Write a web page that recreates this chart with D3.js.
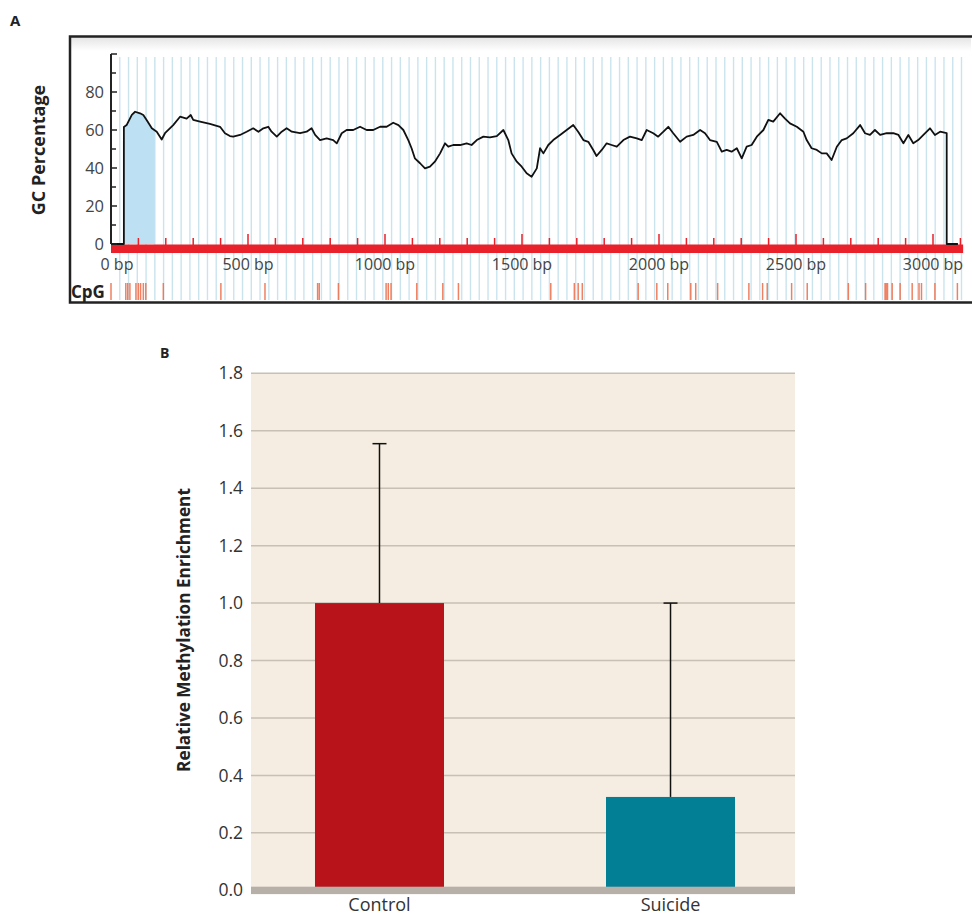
<!DOCTYPE html>
<html><head><meta charset="utf-8">
<script src="https://cdn.jsdelivr.net/npm/d3@7"></script>
<style>
html,body{margin:0;padding:0;background:#fff;}
text{font-family:"Open Sans",Lato,sans-serif;}
</style></head>
<body>
<svg id="chart" width="972" height="918"></svg>
<script>
// ---------- Panel A data ----------
const seqLength = 3110;
const gcPos = [0,47,47,57,76,88,106,118,130,149,167,185,197,227,252,276,291,300,325,361,398,416,434,446,471,495,519,538,556,574,586,605,623,641,660,690,714,732,745,763,787,811,824,842,860,884,909,933,957,982,1006,1030,1049,1067,1085,1097,1109,1128,1146,1164,1182,1201,1219,1231,1249,1274,1298,1316,1335,1359,1383,1408,1432,1450,1462,1481,1499,1517,1535,1554,1566,1578,1596,1614,1639,1663,1687,1705,1724,1742,1760,1772,1791,1809,1827,1846,1870,1894,1919,1937,1955,1979,1997,2016,2034,2052,2077,2101,2125,2150,2168,2186,2211,2229,2247,2265,2284,2302,2320,2338,2357,2381,2399,2417,2442,2460,2478,2503,2527,2539,2557,2576,2594,2612,2630,2649,2667,2685,2709,2734,2752,2770,2788,2807,2831,2855,2874,2892,2910,2928,2946,2965,2989,3007,3026,3050,3050,3091];
const gcVal = [0,0,61.6,62.6,68,69.6,68.8,67.9,65.3,60.9,59.1,55,58.3,62.6,67,66,67.9,65.3,64.4,63.2,61.7,58.3,56.8,56.5,57.4,59.1,60.9,59.1,60.9,61.7,59.1,56.5,59.1,60.9,59.1,58.3,59.1,60.9,57.4,54.7,55.6,54.7,53,58.3,60,60,61.7,60,60,61.7,61.7,63.8,62.6,60,54.7,50.4,45.1,42.5,39.8,40.7,43.3,47.7,53,51.2,52.1,52.1,53,52.1,54.7,56.5,56.1,56.8,60,54.7,47.7,43.3,40.7,37.2,35.4,39.8,50.4,47.7,52.1,54.7,57.4,60,62.6,59.1,54.7,53.8,49.5,46.3,49.5,53,52.1,51.2,54.7,56.5,55.6,54.7,60,58.3,56.5,59.1,61.7,58.3,53.8,56.5,57.4,60,58.3,54.7,53.8,48.6,49.5,48.6,50.4,45.1,51.2,52.1,56.5,60,65.3,64.4,68.8,66,63.5,61.7,59.1,54.7,50.4,49.5,47.7,47.7,44.2,51.2,54.7,55.6,58.3,62.6,58.3,57.4,60,57.4,58.3,58.3,57.4,53,57.4,53,54.7,57.4,60.9,57.4,59.1,58.3,0,0];
const cpgIsland = [47,160];
const cpgPos = [0,54,61,69,91,100,108,118,127,191,401,562,754,760,830,1004,1012,1022,1116,1211,1268,1605,1691,1705,1720,1924,1992,2032,2116,2134,2214,2328,2378,2395,2484,2541,2691,2754,2825,2829,2834,2851,2880,2924,2949,2958,3007,3089];
const bpTicks = [0,500,1000,1500,2000,2500,3000];
const bpTickLabels = ["0 bp","500 bp","1000 bp","1500 bp","2000 bp","2500 bp","3000 bp"];
const gcTicks = [0,20,40,60,80];
const gcTickLabels = ["0","20","40","60","80"];

// ---------- Panel B data ----------
const categories = ["Control","Suicide"];
const enrichment = [1.0,0.325];
const errUpper = [0.555,0.675];
const enrichTicks = [0,0.2,0.4,0.6,0.8,1.0,1.2,1.4,1.6,1.8];
const enrichTickLabels = ["0.0","0.2","0.4","0.6","0.8","1.0","1.2","1.4","1.6","1.8"];
const barColors = ["#b8121b","#027e95"];

const svg = d3.select("#chart");
const defs = svg.append("defs");

// ================= Panel A =================
const xA = d3.scaleLinear().domain([0,3000]).range([111,933]);
const yA = d3.scaleLinear().domain([0,100]).range([244,54]);

svg.append("text").attr("x",10).attr("y",26).attr("font-size",15).attr("font-weight",700).attr("fill","#222").text("A");

// frame + top gradient
const grad = defs.append("linearGradient").attr("id","topgrad").attr("x1",0).attr("y1",0).attr("x2",0).attr("y2",1);
grad.append("stop").attr("offset","0%").attr("stop-color","#e4e4e4");
grad.append("stop").attr("offset","100%").attr("stop-color","#ffffff");
svg.append("rect").attr("x",70).attr("y",37).attr("width",902).attr("height",265).attr("fill","#fff");
svg.append("rect").attr("x",71).attr("y",37).attr("width",900).attr("height",14).attr("fill","url(#topgrad)");

// blue gridlines
const gridBp = d3.range(32, seqLength, 32);
svg.append("g").selectAll("line").data(gridBp).join("line")
  .attr("x1",d=>xA(d)).attr("x2",d=>xA(d)).attr("y1",57).attr("y2",300)
  .attr("stroke","#cae4ee").attr("stroke-width",1.4);

// CpG island shading
defs.append("clipPath").attr("id","islandclip").append("rect")
  .attr("x",xA(cpgIsland[0])).attr("y",0).attr("width",xA(cpgIsland[1])-xA(cpgIsland[0])).attr("height",400);
const gcData = gcPos.map((p,i)=>({p,v:gcVal[i]}));
svg.append("path").datum(gcData)
  .attr("clip-path","url(#islandclip)")
  .attr("d",d3.area().x(d=>xA(d.p)).y0(yA(0)).y1(d=>yA(d.v)))
  .attr("fill","#bde1f2");

// red sequence bar
svg.append("rect").attr("x",xA(0)).attr("y",244.5).attr("width",xA(seqLength)-xA(0)).attr("height",8.5).attr("fill","#e8212b");
const scaleTicks = d3.range(100, seqLength, 100);
svg.append("g").selectAll("line").data(scaleTicks).join("line")
  .attr("x1",d=>xA(d)).attr("x2",d=>xA(d))
  .attr("y1",d=>d%500===0?234:238).attr("y2",245)
  .attr("stroke","#e8212b").attr("stroke-width",1.5);

// GC line
svg.append("path").datum(gcData)
  .attr("d",d3.line().x(d=>xA(d.p)).y(d=>yA(d.v)))
  .attr("fill","none").attr("stroke","#111").attr("stroke-width",1.8).attr("stroke-linejoin","round");

// y axis A
const gA = svg.append("g");
gA.append("line").attr("x1",111).attr("x2",111).attr("y1",yA(100)).attr("y2",yA(0)).attr("stroke","#222").attr("stroke-width",2);
gA.selectAll("line.t").data(d3.range(0,101,10)).join("line").attr("class","t")
  .attr("x1",111).attr("x2",d=>d%20===0?117:116).attr("y1",d=>yA(d)).attr("y2",d=>yA(d))
  .attr("stroke","#222").attr("stroke-width",1.5);
gA.selectAll("text").data(gcTicks).join("text")
  .attr("x",104).attr("y",d=>yA(d)).attr("dy","0.35em").attr("text-anchor","end")
  .attr("font-size",16.5).attr("fill","#444").text((d,i)=>gcTickLabels[i]);

// x labels A
svg.append("g").selectAll("text").data(bpTicks).join("text")
  .attr("x",(d,i)=>i===0?xA(d)+6:xA(d)).attr("y",270).attr("text-anchor","middle")
  .attr("font-size",16).attr("fill","#444").text((d,i)=>bpTickLabels[i]);

// GC Percentage title
svg.append("text").attr("transform","translate(45,150) rotate(-90)").attr("text-anchor","middle")
  .attr("font-size",18).attr("font-weight",700).attr("fill","#222").text("GC Percentage");

// CpG row
svg.append("text").attr("x",71).attr("y",297.5).attr("font-size",17).attr("font-weight",700).attr("fill","#222").text("CpG");
svg.append("g").selectAll("line").data(cpgPos).join("line")
  .attr("x1",d=>xA(d)).attr("x2",d=>xA(d)).attr("y1",283).attr("y2",300)
  .attr("stroke","#ec6a45").attr("stroke-width",1.5).attr("stroke-opacity",0.85);

// frame
svg.append("rect").attr("x",70).attr("y",36.5).attr("width",905).attr("height",266).attr("fill","none").attr("stroke","#222").attr("stroke-width",2.5);

// ================= Panel B =================
const yB = d3.scaleLinear().domain([0,1.8]).range([890.3,373.3]);
const xB = d3.scaleBand().domain(categories).range([253,797]).paddingInner(0.5567).paddingOuter(0.213);
const left = 251, right = 795;

svg.append("text").attr("x",160).attr("y",358).attr("font-size",14).attr("font-weight",700).attr("fill","#222").text("B");

svg.append("rect").attr("x",left).attr("y",yB(1.8)).attr("width",right-left).attr("height",yB(0)-yB(1.8)).attr("fill","#f5ede1");
svg.append("g").selectAll("line").data(enrichTicks.filter(d=>d>0)).join("line")
  .attr("x1",left).attr("x2",right).attr("y1",d=>yB(d)).attr("y2",d=>yB(d))
  .attr("stroke","#c8bfb5").attr("stroke-width",1.5);

// error bars (upper)
const cap = 7;
const eb = svg.append("g");
categories.forEach((c,i)=>{
  const cx = xB(c)+xB.bandwidth()/2;
  eb.append("line").attr("x1",cx).attr("x2",cx).attr("y1",yB(enrichment[i])).attr("y2",yB(enrichment[i]+errUpper[i])).attr("stroke","#111").attr("stroke-width",1.5);
  eb.append("line").attr("x1",cx-cap).attr("x2",cx+cap).attr("y1",yB(enrichment[i]+errUpper[i])).attr("y2",yB(enrichment[i]+errUpper[i])).attr("stroke","#111").attr("stroke-width",1.5);
});

// bars
svg.append("g").selectAll("rect").data(categories).join("rect")
  .attr("x",d=>xB(d)).attr("width",xB.bandwidth())
  .attr("y",(d,i)=>yB(enrichment[i])).attr("height",(d,i)=>yB(0)-yB(enrichment[i]))
  .attr("fill",(d,i)=>barColors[i]);

// baseline band
svg.append("rect").attr("x",left).attr("y",yB(0)-3.6).attr("width",right-left).attr("height",7.4).attr("fill","#b7b0a9");

// y axis B
const axB = svg.append("g").attr("transform",`translate(${left},0)`)
  .call(d3.axisLeft(yB).tickValues(enrichTicks).tickFormat((d,i)=>enrichTickLabels[i]).tickSize(0).tickPadding(8));
axB.select(".domain").remove();
axB.selectAll("text").attr("font-size",17.5).attr("fill","#333").attr("font-family","'Open Sans',Lato,sans-serif");

// x axis B
const axX = svg.append("g").attr("transform",`translate(0,${yB(0)+3})`)
  .call(d3.axisBottom(xB).tickSize(0).tickPadding(5));
axX.select(".domain").remove();
axX.selectAll("text").attr("font-size",18).attr("fill","#333").attr("font-family","'Open Sans',Lato,sans-serif");

// y title B
svg.append("text").attr("transform","translate(190,630) rotate(-90)").attr("text-anchor","middle")
  .attr("font-size",17.2).attr("font-weight",700).attr("fill","#222").text("Relative Methylation Enrichment");
</script>
</body></html>
